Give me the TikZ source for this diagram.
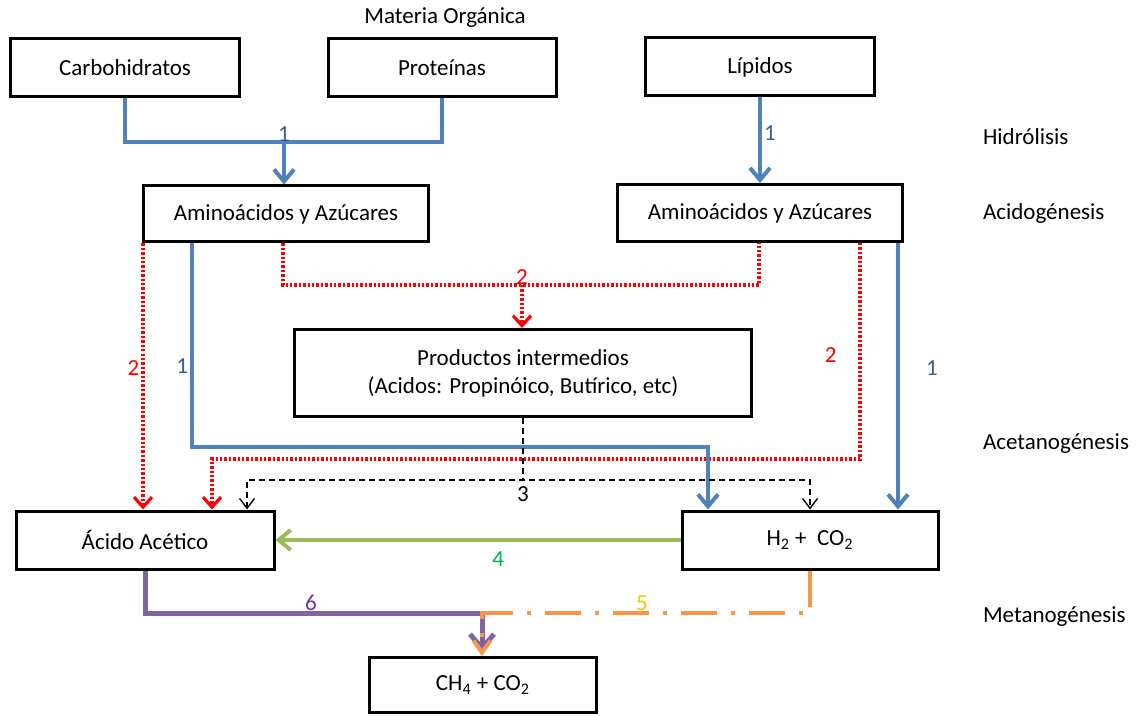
\documentclass[tikz,border=0pt]{standalone}
\usepackage{fontspec}
\setmainfont{Carlito}
\usetikzlibrary{arrows.meta}

\definecolor{azul}{RGB}{79,129,189}
\definecolor{azuloscuro}{RGB}{54,95,145}
\definecolor{verde}{RGB}{155,187,89}
\definecolor{verdetexto}{RGB}{0,176,80}
\definecolor{morado}{RGB}{128,100,162}
\definecolor{moradotexto}{RGB}{112,48,160}
\definecolor{naranja}{RGB}{247,150,70}
\definecolor{amarillo}{RGB}{255,192,0}

\begin{document}
\begin{tikzpicture}[x=0.5pt, y=-0.5pt, font=\fontsize{11.5}{14}\selectfont,
    caja/.style={draw, line width=1.5pt, minimum width=#1, minimum height=29pt},
    azullinea/.style={draw=azul, line width=2pt},
    azulflecha/.style={azullinea, -{Straight Barb[length=6pt,width=10pt]}},
    rojopunto/.style={draw=red, line width=1.6pt, dash pattern=on 1.2pt off 1pt, -{Straight Barb[length=5pt,width=9pt]}},
    negraflecha/.style={draw=black, line width=0.7pt, dash pattern=on 3pt off 2pt, {Straight Barb[length=5pt,width=7.5pt]}-{Straight Barb[length=5pt,width=7.5pt]}},
    etiqueta/.style={inner sep=1pt}]
    \useasboundingbox (0,0) rectangle (1139,716);

    % cajas
    \node (mo) at (445,18) {Materia Orgánica};
    \node[caja=114.5pt] (carb) at (125,68) {Carbohidratos};
    \node[caja=114pt] (prot) at (442,68) {Proteínas};
    \node[caja=114.5pt] (lip) at (760,67) {Lípidos};
    \node[caja=142.5pt, minimum height=28pt] (amiL) at (286,214) {Aminoácidos y Azúcares};
    \node[caja=142.5pt, minimum height=28.5pt] (amiR) at (760,213) {Aminoácidos y Azúcares};
    \node[caja=228.5pt, minimum height=43.5pt, align=center] (prod) at (523,373) {Productos intermedios\\(Acidos: Propinóico, Butírico, etc)};
    \node[caja=129pt] (acido) at (145,540) {Ácido Acético};
    \node[caja=128pt] (htwo) at (810,540) {H\textsubscript{2} +\ \ CO\textsubscript{2}};
    \node[caja=113.5pt, minimum height=27.5pt] (ch4) at (483,685) {CH\textsubscript{4} + CO\textsubscript{2}};

    % etapas
    \node[anchor=west] (hid) at (976,137) {Hidrólisis};
    \node[anchor=west] (acg) at (976,213) {Acidogénesis};
    \node[anchor=west] (acet) at (976,444) {Acetanogénesis};
    \node[anchor=west] (met) at (976,617) {Metanogénesis};

    % hidrolisis
    \coordinate (j1) at (284,142);
    \draw[azullinea] (carb.south) |- (j1) -| (prot.south);
    \draw[azulflecha] (j1) -- (j1 |- amiL.north);
    \node[etiqueta, azuloscuro, above, inner sep=0pt] (n1a) at (j1) {1};
    \draw[azulflecha] (lip.south) -- node[etiqueta, azuloscuro, right, pos=0.42] (n1b) {1} (amiR.north);

    % acidogenesis
    \coordinate (r2) at (522,285);
    \draw[rojopunto, -] (283,0 |- amiL.south) |- (r2) -| (759,0 |- amiR.south);
    \draw[rojopunto] (r2) -- (r2 |- prod.north);
    \node[etiqueta, red, above, inner sep=0pt] (n2a) at (r2) {2};
    \draw[rojopunto] (143,0 |- amiL.south) -- node[etiqueta, red, left, pos=0.47] (n2b) {2} (143,0 |- acido.north);
    \coordinate (r3) at (212,459);
    \draw[rojopunto] (860,0 |- amiR.south) -- node[etiqueta, red, left=10pt, pos=0.52] (n2c) {2} (860,0 |- r3) -- (r3) -- (r3 |- acido.north);
    \coordinate (b1) at (708,447);
    \draw[azulflecha] (192,0 |- amiL.south) -- node[etiqueta, azuloscuro, left, pos=0.6] (n1c) {1} (192,0 |- b1) -- (b1) -- (b1 |- htwo.north);
    \draw[azulflecha] (898,0 |- amiR.south) -- node[etiqueta, azuloscuro, right=12pt, pos=0.47] (n1d) {1} (898,0 |- htwo.north);

    % acetanogenesis
    \coordinate (d1) at (523,480);
    \draw[negraflecha, -] (prod.south) -- (d1);
    \draw[negraflecha] (247,0 |- acido.north) |- (d1) -| (htwo.north);
    \node[etiqueta, below=2pt] (n3) at (d1) {3};

    % metanogenesis
    \draw[verde, line width=2pt, -{Straight Barb[length=6pt,width=10pt]}] (htwo.west) -- node[etiqueta, verdetexto, below=4pt, pos=0.45] (n4) {4} (acido.east);
    \coordinate (m1) at (482,613);
    \draw[morado, line width=2.5pt, shorten >=2pt, -{Straight Barb[length=7pt,width=12pt]}] (acido.south) |- (m1) -- (m1 |- ch4.north);
    \node[etiqueta, moradotexto, above] (n6) at (311,613) {6};
    \draw[naranja, line width=2pt, dash pattern=on 18pt off 7pt on 2pt off 7pt, -{Straight Barb[length=6pt,width=8.5pt]}] (htwo.south) |- (m1) -- (m1 |- ch4.north);
    \node[etiqueta, amarillo, above] (n5) at (642,613) {5};
\end{tikzpicture}
\end{document}
